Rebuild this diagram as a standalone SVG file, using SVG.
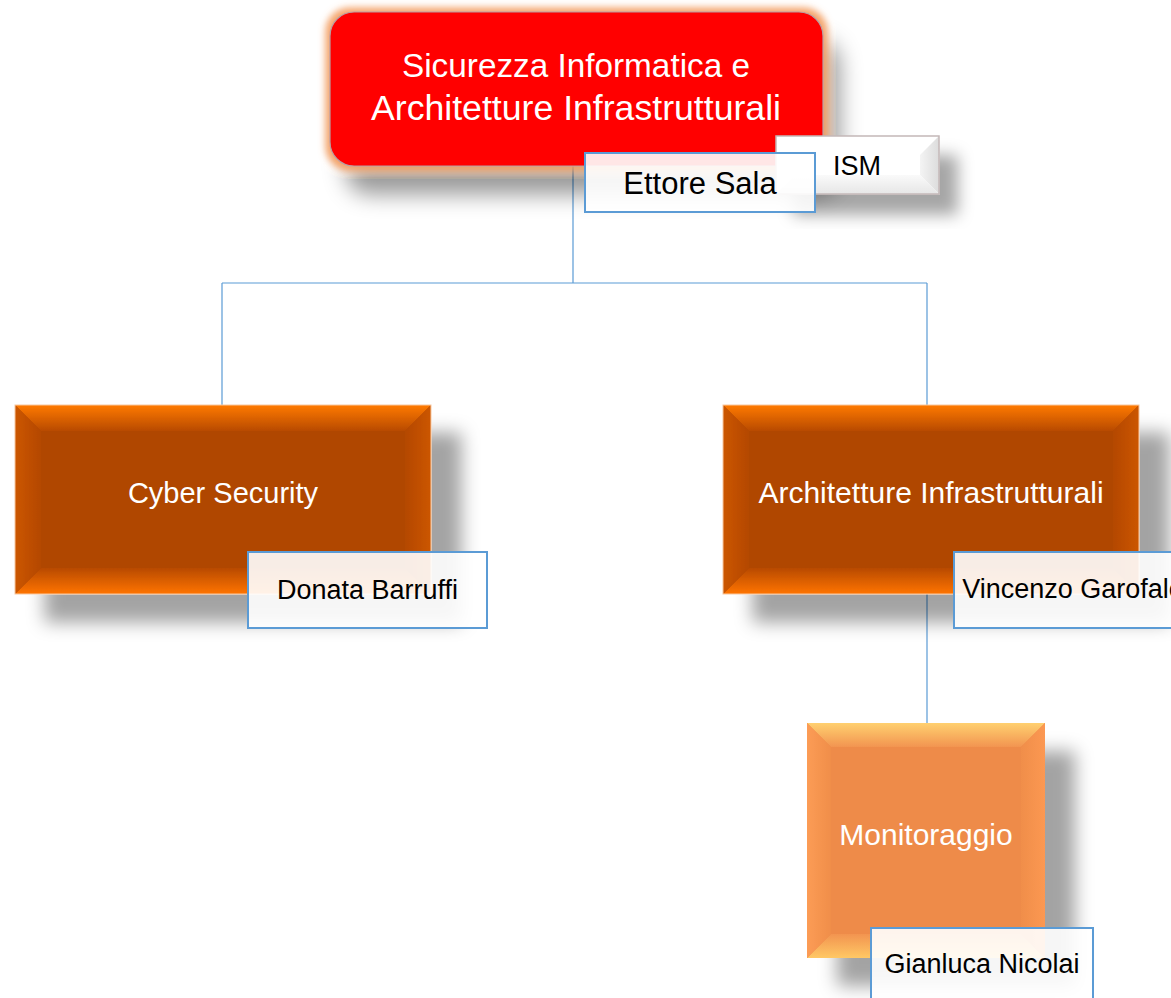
<svg xmlns="http://www.w3.org/2000/svg" width="1171" height="998" viewBox="0 0 1171 998">
  <defs>
    <style>
      .conn { stroke: #5B9BD5; stroke-width: 1.2; fill: none; }
      .wt { font-family: "Liberation Sans", Arial, sans-serif; fill: #FFFFFF; text-anchor: middle; }
      .bt { font-family: "Liberation Sans", Arial, sans-serif; fill: #000000; text-anchor: middle; }
      .name { fill: #FFFFFF; fill-opacity: 0.9; stroke: #5B9BD5; stroke-width: 2; }
      .dk { fill: #B04600; }
      .lt { fill: #EE8B48; }
    </style>
    <filter id="titleFx" x="-20%" y="-30%" width="150%" height="190%">
      <feGaussianBlur in="SourceAlpha" stdDeviation="11" result="sb"/>
      <feOffset in="sb" dx="16" dy="28" result="so"/>
      <feFlood flood-color="#000" flood-opacity="0.4"/>
      <feComposite in2="so" operator="in" result="shadow"/>
      <feMorphology in="SourceAlpha" operator="dilate" radius="4" result="dil"/>
      <feGaussianBlur in="dil" stdDeviation="3.5" result="gb"/>
      <feFlood flood-color="#F39A5A" flood-opacity="0.9"/>
      <feComposite in2="gb" operator="in" result="glow"/>
      <feMerge><feMergeNode in="shadow"/><feMergeNode in="glow"/><feMergeNode in="SourceGraphic"/></feMerge>
    </filter>
    <filter id="boxFx" x="-20%" y="-20%" width="150%" height="160%">
      <feGaussianBlur in="SourceAlpha" stdDeviation="9" result="sb"/>
      <feOffset in="sb" dx="30" dy="28" result="so"/>
      <feFlood flood-color="#000" flood-opacity="0.36"/>
      <feComposite in2="so" operator="in" result="shadow"/>
      <feMerge><feMergeNode in="shadow"/><feMergeNode in="SourceGraphic"/></feMerge>
    </filter>
    <filter id="ismFx" x="-20%" y="-30%" width="150%" height="190%">
      <feGaussianBlur in="SourceAlpha" stdDeviation="8" result="sb"/>
      <feOffset in="sb" dx="18" dy="20" result="so"/>
      <feFlood flood-color="#000" flood-opacity="0.35"/>
      <feComposite in2="so" operator="in" result="shadow"/>
      <feMerge><feMergeNode in="shadow"/><feMergeNode in="SourceGraphic"/></feMerge>
    </filter>
    <linearGradient id="dTop" x1="0" y1="0" x2="0" y2="1">
      <stop offset="0" stop-color="#FF7A00"/><stop offset="1" stop-color="#B84A00"/>
    </linearGradient>
    <linearGradient id="dBot" x1="0" y1="0" x2="0" y2="1">
      <stop offset="0" stop-color="#B84A00"/><stop offset="1" stop-color="#FF7400"/>
    </linearGradient>
    <linearGradient id="dLeft" x1="0" y1="0" x2="1" y2="0">
      <stop offset="0" stop-color="#CC5600"/><stop offset="1" stop-color="#B44800"/>
    </linearGradient>
    <linearGradient id="dRight" x1="0" y1="0" x2="1" y2="0">
      <stop offset="0" stop-color="#B44800"/><stop offset="1" stop-color="#CC5600"/>
    </linearGradient>
    <linearGradient id="lTop" x1="0" y1="0" x2="0" y2="1">
      <stop offset="0" stop-color="#FFD070"/><stop offset="1" stop-color="#F29450"/>
    </linearGradient>
    <linearGradient id="lBot" x1="0" y1="0" x2="0" y2="1">
      <stop offset="0" stop-color="#F29450"/><stop offset="1" stop-color="#FFC865"/>
    </linearGradient>
    <linearGradient id="lLeft" x1="0" y1="0" x2="1" y2="0">
      <stop offset="0" stop-color="#FC9C55"/><stop offset="1" stop-color="#F08E4A"/>
    </linearGradient>
    <linearGradient id="lRight" x1="0" y1="0" x2="1" y2="0">
      <stop offset="0" stop-color="#F08E4A"/><stop offset="1" stop-color="#FC9852"/>
    </linearGradient>
    <linearGradient id="gRight" x1="0" y1="0" x2="1" y2="0">
      <stop offset="0" stop-color="#F4F4F4"/><stop offset="1" stop-color="#DCDCDC"/>
    </linearGradient>
    <linearGradient id="gBot" x1="0" y1="0" x2="0" y2="1">
      <stop offset="0" stop-color="#FAFAFA"/><stop offset="1" stop-color="#E6E6E6"/>
    </linearGradient>
  </defs>

  <g id="connectors">
    <path class="conn" d="M573,166 V283 M222,283 H927 M222,283 V405 M927,283 V405 M927,594 V723"/>
  </g>

  <g id="node-root">
    <rect x="330" y="12" width="493" height="154" rx="24" ry="24" fill="#FF0000" stroke="#B8A0A0" stroke-width="1.2" filter="url(#titleFx)"/>
    <text class="wt" x="576" y="77" font-size="34" textLength="348" lengthAdjust="spacingAndGlyphs">Sicurezza Informatica e</text>
    <text class="wt" x="576" y="120" font-size="35" textLength="410" lengthAdjust="spacingAndGlyphs">Architetture Infrastrutturali</text>
  </g>

  <g id="node-ism">
    <g filter="url(#ismFx)">
      <rect x="776" y="136" width="163" height="58" fill="#FFFFFF"/>
      <polygon points="939,136 939,194 920,175 920,155" fill="url(#gRight)"/>
      <polygon points="776,194 939,194 920,175 795,175" fill="url(#gBot)"/>
      <rect x="776" y="136" width="163" height="58" fill="none" stroke="#C4B8B8" stroke-width="1.5"/>
    </g>
    <text class="bt" x="857" y="175" font-size="27">ISM</text>
  </g>

  <g id="node-ettore">
    <rect class="name" x="585" y="153" width="230" height="59"/>
    <text class="bt" x="700" y="194" font-size="31">Ettore Sala</text>
  </g>

  <g id="node-cyber">
    <g filter="url(#boxFx)">
      <rect class="dk" x="15" y="405" width="416" height="189"/>
      <polygon points="15,405 431,405 405,431 41,431" fill="url(#dTop)"/>
      <polygon points="15,594 431,594 405,568 41,568" fill="url(#dBot)"/>
      <polygon points="15,405 41,431 41,568 15,594" fill="url(#dLeft)"/>
      <polygon points="431,405 405,431 405,568 431,594" fill="url(#dRight)"/>
      <rect x="15" y="405" width="416" height="189" fill="none" stroke="#F8C8A0" stroke-width="1"/>
    </g>
    <text class="wt" x="223" y="503" font-size="29">Cyber Security</text>
  </g>

  <g id="node-donata">
    <rect class="name" x="248" y="552" width="239" height="76"/>
    <text class="bt" x="367.5" y="599" font-size="27">Donata Barruffi</text>
  </g>

  <g id="node-arch">
    <g filter="url(#boxFx)">
      <rect class="dk" x="723" y="405" width="416" height="189"/>
      <polygon points="723,405 1139,405 1113,431 749,431" fill="url(#dTop)"/>
      <polygon points="723,594 1139,594 1113,568 749,568" fill="url(#dBot)"/>
      <polygon points="723,405 749,431 749,568 723,594" fill="url(#dLeft)"/>
      <polygon points="1139,405 1113,431 1113,568 1139,594" fill="url(#dRight)"/>
      <rect x="723" y="405" width="416" height="189" fill="none" stroke="#F8C8A0" stroke-width="1"/>
    </g>
    <text class="wt" x="931" y="503" font-size="30">Architetture Infrastrutturali</text>
  </g>

  <g id="node-vincenzo">
    <rect class="name" x="954" y="552" width="239" height="76"/>
    <text class="bt" x="1073" y="598" font-size="27">Vincenzo Garofalo</text>
  </g>

  <g id="node-monitor">
    <g filter="url(#boxFx)">
      <rect class="lt" x="807" y="723" width="238" height="235"/>
      <polygon points="807,723 1045,723 1021,747 831,747" fill="url(#lTop)"/>
      <polygon points="807,958 1045,958 1021,934 831,934" fill="url(#lBot)"/>
      <polygon points="807,723 831,747 831,934 807,958" fill="url(#lLeft)"/>
      <polygon points="1045,723 1021,747 1021,934 1045,958" fill="url(#lRight)"/>
    </g>
    <text class="wt" x="926" y="845" font-size="30">Monitoraggio</text>
  </g>

  <g id="node-gianluca">
    <rect class="name" x="871" y="928" width="222" height="80"/>
    <text class="bt" x="982" y="973" font-size="27">Gianluca Nicolai</text>
  </g>
</svg>
